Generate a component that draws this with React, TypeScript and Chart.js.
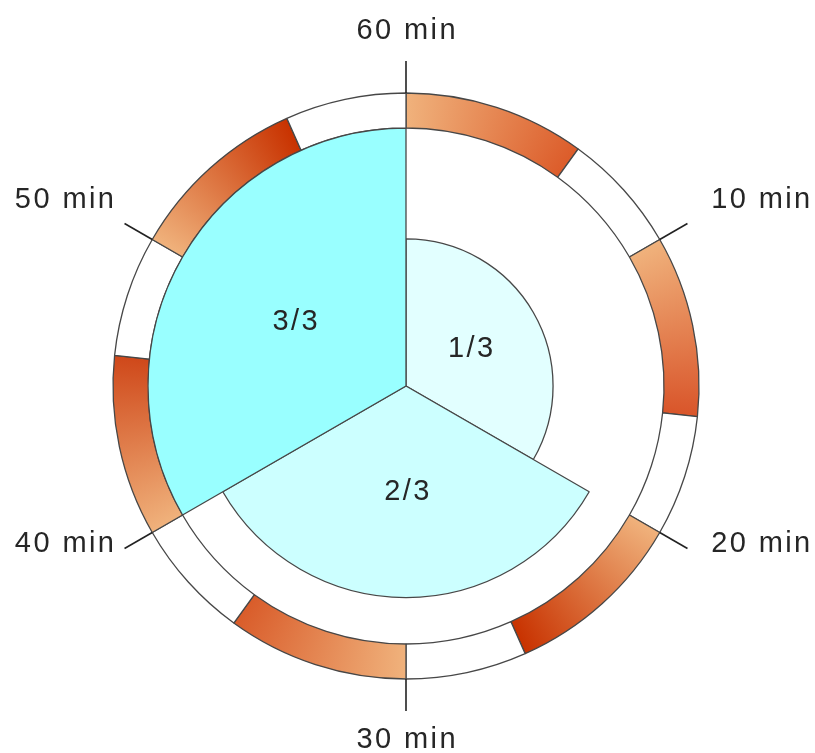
import React, { useEffect, useRef } from 'react';
import { Chart, registerables } from 'chart.js';

Chart.register(...registerables);

// ---- data ----
const sectorLabels = ['1/3', '2/3', '3/3'];
const sectorValues = [0.57, 0.82, 1.0];
const sectorColors = ['#e2ffff', '#ccffff', '#99ffff'];

const ringMinutes = [6, 4, 6, 4, 6, 4, 6, 4, 6, 4, 6, 4];
const ringFilled = [true, false, true, false, true, false, true, false, true, false, true, false];
const ringStartColor = '#f0b27c';
const ringEndColors = ['#dc5c2a', '#d9552a', '#c83200', '#d95c2a', '#cf481a', '#c83200'];

const tickMinutes = [0, 10, 20, 30, 40, 50];
const tickLabels = ['60 min', '10 min', '20 min', '30 min', '40 min', '50 min'];

// ---- layout ----
const W = 815;
const H = 753;
const CX = 406;
const CY = 386;
const R_OUT = 293;
const R_IN = 258;
const FONT = '29px "Liberation Sans", Arial, sans-serif';
const TEXT_COLOR = '#262626';
const LINE_COLOR = '#474747';

const tickPlugin = {
  id: 'clockTicks',
  afterDraw(chart: any) {
    const arc = chart.getDatasetMeta(0).data[0];
    if (!arc) return;
    const { x, y, outerRadius } = arc.getProps(['x', 'y', 'outerRadius'], true);
    const ctx = chart.ctx;
    ctx.save();
    ctx.strokeStyle = '#222222';
    ctx.lineWidth = 1.6;
    ctx.font = FONT;
    ctx.fillStyle = TEXT_COLOR;
    ctx.textAlign = 'center';
    ctx.textBaseline = 'middle';
    try { (ctx as any).letterSpacing = '2.4px'; } catch (e) {}
    tickMinutes.forEach((m, i) => {
      const a = (m / 60) * Math.PI * 2;
      const s = Math.sin(a);
      const c = Math.cos(a);
      ctx.beginPath();
      ctx.moveTo(x + outerRadius * s, y - outerRadius * c);
      ctx.lineTo(x + (outerRadius + 32) * s, y - (outerRadius + 32) * c);
      ctx.stroke();
      const lx = x + (outerRadius + 109) * s + 8.7 * s * s + 1.2;
      const ly = y - (outerRadius + 48) * c - 13.7 * c * c * c + 18 * c * c - 20.75 + 2;
      ctx.fillText(tickLabels[i], lx, ly);
    });
    ctx.restore();
  },
};

const sectorLabelPlugin = {
  id: 'sectorLabels',
  afterDatasetsDraw(chart: any) {
    const ctx = chart.ctx;
    const meta = chart.getDatasetMeta(0);
    ctx.save();
    ctx.font = FONT;
    ctx.fillStyle = TEXT_COLOR;
    ctx.textAlign = 'center';
    ctx.textBaseline = 'middle';
    try { (ctx as any).letterSpacing = '2.4px'; } catch (e) {}
    meta.data.forEach((el: any, i: number) => {
      const p = el.getCenterPoint(true);
      ctx.fillText(sectorLabels[i], p.x + 2, p.y);
    });
    ctx.restore();
  },
};

export default function App() {
  const ringRef = useRef<HTMLCanvasElement | null>(null);
  const polarRef = useRef<HTMLCanvasElement | null>(null);

  useEffect(() => {
    if (!ringRef.current || !polarRef.current) return;

    const ringChart = new Chart(ringRef.current, {
      type: 'doughnut',
      data: {
        labels: ringMinutes.map((_, i) => 'seg' + i),
        datasets: [
          {
            data: ringMinutes,
            backgroundColor: (c: any) => {
              if (!ringFilled[c.dataIndex]) return '#ffffff';
              const chart = c.chart;
              const area = chart.chartArea;
              if (!area) return ringStartColor;
              const cx = (area.left + area.right) / 2;
              const cy = (area.top + area.bottom) / 2;
              const g = chart.ctx.createConicGradient(-Math.PI / 2, cx, cy);
              let acc = 0;
              let k = 0;
              ringMinutes.forEach((m, i) => {
                if (ringFilled[i]) {
                  g.addColorStop(acc / 60, ringStartColor);
                  g.addColorStop((acc + m) / 60, ringEndColors[k]);
                  k++;
                }
                acc += m;
              });
              return g;
            },
            borderColor: LINE_COLOR,
            borderWidth: 1.3,
          },
        ],
      },
      options: {
        responsive: false,
        animation: false,
        radius: R_OUT,
        cutout: (R_IN / R_OUT) * 100 + '%',
        layout: { padding: { left: 0, right: W - 2 * CX, top: 2 * CY - H, bottom: 0 } },
        plugins: { legend: { display: false }, tooltip: { enabled: false } },
      } as any,
      plugins: [tickPlugin],
    });

    const polarChart = new Chart(polarRef.current, {
      type: 'polarArea',
      data: {
        labels: sectorLabels,
        datasets: [
          {
            data: sectorValues,
            backgroundColor: sectorColors,
            borderColor: LINE_COLOR,
            borderWidth: 1.3,
          },
        ],
      },
      options: {
        responsive: false,
        animation: false,
        scales: { r: { display: false, min: 0, max: 1 } },
        plugins: { legend: { display: false }, tooltip: { enabled: false } },
      } as any,
      plugins: [sectorLabelPlugin],
    });

    return () => {
      ringChart.destroy();
      polarChart.destroy();
    };
  }, []);

  return (
    <div style={{ position: 'absolute', left: 0, top: 0, width: W, height: H, background: '#ffffff' }}>
      <canvas
        ref={ringRef}
        width={W}
        height={H}
        style={{ position: 'absolute', left: 0, top: 0, width: W, height: H }}
      />
      <canvas
        ref={polarRef}
        width={2 * R_IN}
        height={2 * R_IN}
        style={{ position: 'absolute', left: CX - R_IN, top: CY - R_IN, width: 2 * R_IN, height: 2 * R_IN }}
      />
    </div>
  );
}
